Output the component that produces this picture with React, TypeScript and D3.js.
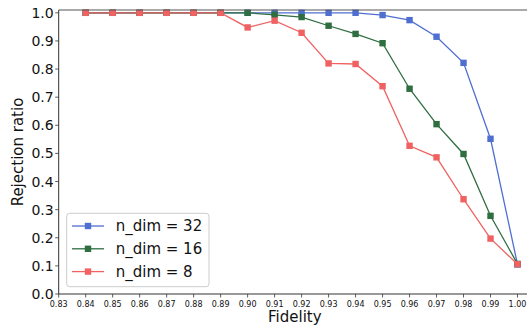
import React from "react";
import * as d3 from "d3";

const fidelity = [0.84, 0.85, 0.86, 0.87, 0.88, 0.89, 0.9, 0.91, 0.92, 0.93, 0.94, 0.95, 0.96, 0.97, 0.98, 0.99, 1.0];
const dim32 = [1, 1, 1, 1, 1, 1, 1, 1, 1, 1, 1, 0.992, 0.974, 0.915, 0.822, 0.552, 0.105];
const dim16 = [1, 1, 1, 1, 1, 1, 1, 0.993, 0.985, 0.954, 0.925, 0.892, 0.73, 0.604, 0.498, 0.278, 0.107];
const dim8 = [1, 1, 1, 1, 1, 1, 0.948, 0.972, 0.929, 0.82, 0.818, 0.739, 0.527, 0.486, 0.337, 0.197, 0.106];
const seriesNames = ["n_dim = 32", "n_dim = 16", "n_dim = 8"];
const xTicks = [0.83, 0.84, 0.85, 0.86, 0.87, 0.88, 0.89, 0.9, 0.91, 0.92, 0.93, 0.94, 0.95, 0.96, 0.97, 0.98, 0.99, 1.0];
const yTicks = [0, 0.1, 0.2, 0.3, 0.4, 0.5, 0.6, 0.7, 0.8, 0.9, 1.0];

const colors = ["#4f6fd0", "#2f6e40", "#f06262"];
const FONT = "DejaVu Sans, sans-serif";

export default function App() {
  const W = 527, H = 326;
  const left = 58.7, right = 531, top = 10, bottom = 294;
  const x = d3.scaleLinear().domain([0.83, 1.005]).range([left, right]);
  const y = d3.scaleLinear().domain([0, 1.01]).range([bottom, top]);
  const line = d3.line<[number, number]>().x((d) => x(d[0])).y((d) => y(d[1]));
  const series = [dim32, dim16, dim8];

  return (
    <svg width={W} height={H} style={{ position: "absolute", left: 0, top: 0 }} fontFamily={FONT}>
      <rect x={0} y={0} width={W} height={H} fill="#fff" />
      {series.map((vals, i) => {
        const pts = fidelity.map((f, j) => [f, vals[j]] as [number, number]);
        return (
          <g key={i}>
            <path d={line(pts) || ""} fill="none" stroke={colors[i]} strokeWidth={1.3} />
            {pts.map((p, j) => (
              <rect key={j} x={x(p[0]) - 3.2} y={y(p[1]) - 3.2} width={6.4} height={6.4} fill={colors[i]} />
            ))}
          </g>
        );
      })}
      {/* spines */}
      <line x1={left} x2={right} y1={top} y2={top} stroke="#555" strokeWidth={1} />
      <line x1={left} x2={left} y1={top} y2={bottom} stroke="#333" strokeWidth={1} />
      <line x1={left} x2={right} y1={bottom} y2={bottom} stroke="#333" strokeWidth={1} />
      {/* y ticks */}
      {yTicks.map((t) => (
        <g key={t}>
          <line x1={left - 3.5} x2={left} y1={y(t)} y2={y(t)} stroke="#333" strokeWidth={0.8} />
          <text x={left - 5} y={y(t)} dy="0.36em" textAnchor="end" fontSize={14} fill="#111">
            {t.toFixed(1)}
          </text>
        </g>
      ))}
      {/* x ticks */}
      {xTicks.map((t) => (
        <g key={t}>
          <line x1={x(t)} x2={x(t)} y1={bottom} y2={bottom + 3.5} stroke="#333" strokeWidth={0.8} />
          <text x={x(t)} y={bottom + 13} textAnchor="middle" fontSize={8} fill="#111">
            {t.toFixed(2)}
          </text>
        </g>
      ))}
      <text x={(left + right) / 2} y={322} textAnchor="middle" fontSize={15} fill="#111">Fidelity</text>
      <text transform={`translate(23,${(top + bottom) / 2}) rotate(-90)`} textAnchor="middle" fontSize={15} fill="#111">
        Rejection ratio
      </text>
      {/* legend */}
      <rect x={66.7} y={213.3} width={142.3} height={73.4} rx={3} fill="#fff" fillOpacity={0.8} stroke="#ccc" strokeWidth={1} />
      {seriesNames.map((n, i) => {
        const ly = 226 + i * 22.8;
        return (
          <g key={n}>
            <line x1={72} x2={104} y1={ly} y2={ly} stroke={colors[i]} strokeWidth={1.3} />
            <rect x={88 - 3.2} y={ly - 3.2} width={6.4} height={6.4} fill={colors[i]} />
            <text x={115.7} y={ly} dy="0.36em" fontSize={15} fill="#111">{n}</text>
          </g>
        );
      })}
    </svg>
  );
}
